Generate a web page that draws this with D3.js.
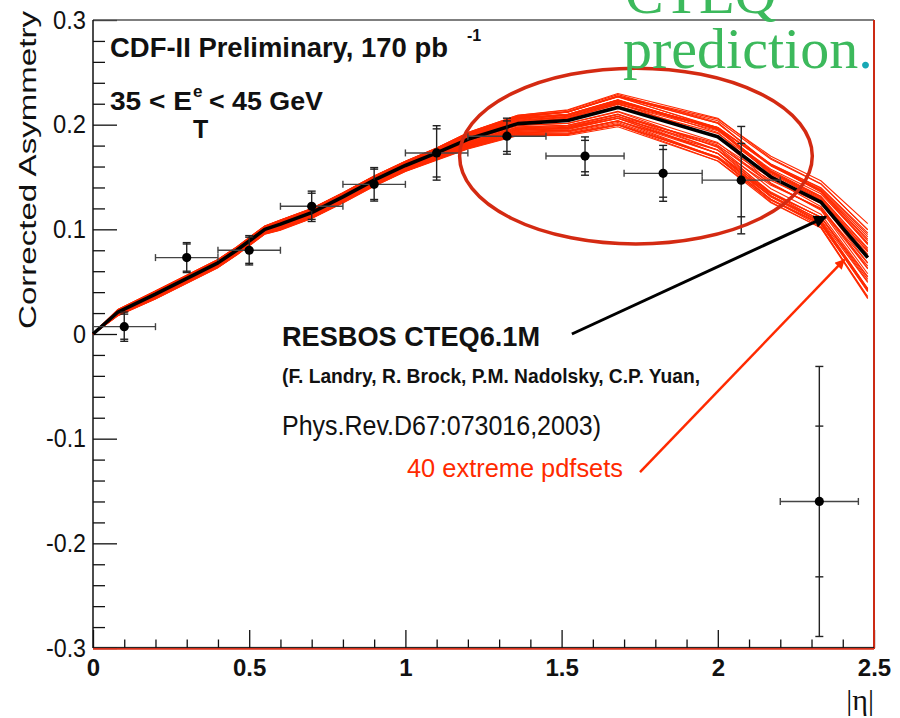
<!DOCTYPE html>
<html>
<head>
<meta charset="utf-8">
<script src="https://cdn.jsdelivr.net/npm/d3@7/dist/d3.min.js"></script>
<style>
  html, body { margin: 0; padding: 0; background: #fff; }
  svg { display: block; }
</style>
</head>
<body>
<svg id="chart" width="900" height="718" font-family="Liberation Sans, Arial, sans-serif"></svg>
<script>
// Measured electron charge asymmetry, CDF Run II (170 pb^-1), 35 < E_T < 45 GeV
const binCenter = [0.1, 0.3, 0.5, 0.7, 0.9, 1.1, 1.325, 1.575, 1.825, 2.075, 2.325];
const binLow    = [0.0, 0.2, 0.4, 0.6, 0.8, 1.0, 1.2, 1.45, 1.7, 1.95, 2.2];
const binHigh   = [0.2, 0.4, 0.6, 0.8, 1.0, 1.2, 1.45, 1.7, 1.95, 2.2, 2.45];
const asymmetry = [0.007, 0.073, 0.080, 0.122, 0.143, 0.173, 0.189, 0.170, 0.1535, 0.147, -0.160];
const statError = [0.012, 0.013, 0.0125, 0.0125, 0.0145, 0.023, 0.0146, 0.015, 0.0228, 0.035, 0.072];
const totError  = [0.014, 0.0143, 0.014, 0.0145, 0.016, 0.026, 0.0172, 0.0183, 0.0267, 0.0513, 0.129];

// RESBOS CTEQ6.1M central prediction
const etaKnots = [0, 0.08, 0.2, 0.4, 0.46, 0.55, 0.6, 0.7, 0.8, 0.9, 1.0, 1.1, 1.2, 1.36, 1.52, 1.68, 2.0, 2.17, 2.33, 2.48];
const theoryCentral = [0, 0.021, 0.038, 0.068, 0.080, 0.100, 0.105, 0.116, 0.131, 0.147, 0.161, 0.173, 0.186, 0.201, 0.204, 0.2165, 0.1885, 0.150, 0.126, 0.073];

// PDF error-set deviations: two shape profiles and the weight of each of the 40 sets
const pdfMidShape = [0, 0.003, 0.004, 0.004, 0.004, 0.004, 0.005, 0.005, 0.005, 0.005, 0.005, 0.006, 0.008, 0.010, 0.012, 0.015, 0.016, 0.012, 0.010, 0.012];
const pdfEndShape = [0, 0, 0, 0, 0, 0, 0, 0, 0, 0, 0, 0, 0, 0, 0.001, 0.002, 0.008, 0.014, 0.016, 0.028];
const pdfMidWeight = [0.8, -1.0, 0.7, -0.9, 0.6, -0.7, 0.4, -0.5, 0.75, -1.1, 0.2, -0.3, 0.65, -0.8, 0.5, -0.6, 0.3, -0.4, 0.1, -0.2,
                      0.7, -0.95, 0.55, -0.75, 0.45, -0.55, 0.25, -0.35, 0.05, -0.15, 0.8, -1.05, 0.6, -0.85, 0.5, -0.65, 0.35, -0.45, 0.15, -1.15];
const pdfEndWeight = [0.6, -0.9, -0.3, 0.2, 0.9, -1.1, 0.1, -0.6, -0.5, -0.2, 0.7, -1.0, 0.3, -0.4, -0.1, -0.8, 0.5, -1.2, 0.8, -0.3,
                      0.2, -0.7, -0.6, 0.4, 0.0, -0.9, 0.6, -0.5, 0.3, -1.0, 0.1, -0.4, 0.7, -0.8, -0.2, 0.5, -0.7, -0.1, 0.4, -0.6];

// Axis ticks
const yMajorTicks = [-0.3, -0.2, -0.1, 0, 0.1, 0.2, 0.3];
const yTickLabels = ["-0.3", "-0.2", "-0.1", "0", "0.1", "0.2", "0.3"];
const xMajorTicks = [0, 0.5, 1, 1.5, 2, 2.5];
const xTickLabels = ["0", "0.5", "1", "1.5", "2", "2.5"];

const SANS = "Liberation Sans, Arial, sans-serif";
const SERIF = "Liberation Serif, Times New Roman, serif";

const svg = d3.select("#chart");
const x = d3.scaleLinear().domain([0, 2.5]).range([93, 874]);
const y = d3.scaleLinear().domain([-0.3, 0.3]).range([648, 20]);

// ---- axes ----
const yMinor = d3.range(-30, 31, 2).map(v => v / 100).filter(v => Math.abs(Math.round(v * 100) % 10) !== 0);
const xMinor = d3.range(0, 26, 1).map(v => v / 10).filter(v => Math.round(v * 10) % 5 !== 0);

const yAxisMajor = svg.append("g").attr("transform", "translate(93,0)")
  .call(d3.axisLeft(y).tickValues(yMajorTicks).tickSize(-24).tickPadding(7)
    .tickFormat((d, i) => yTickLabels[i]));
svg.append("g").attr("transform", "translate(93,0)")
  .call(d3.axisLeft(y).tickValues(yMinor).tickSize(-12).tickFormat(""));

const xAxisMajor = svg.append("g").attr("transform", "translate(0,648)")
  .call(d3.axisBottom(x).tickValues(xMajorTicks).tickSize(-18).tickPadding(11)
    .tickFormat((d, i) => xTickLabels[i]));
svg.append("g").attr("transform", "translate(0,648)")
  .call(d3.axisBottom(x).tickValues(xMinor).tickSize(-8.5).tickFormat(""));

svg.selectAll(".domain").remove();
svg.selectAll(".tick line").attr("stroke", "#111").attr("stroke-width", 1.3);

yAxisMajor.selectAll("text")
  .attr("font-size", 26).attr("fill", "#111").attr("font-family", SANS)
  .attr("textLength", (d, i) => yTickLabels[i] === "0" ? 13 : (yTickLabels[i][0] === "-" ? 40 : 33))
  .attr("lengthAdjust", "spacingAndGlyphs");
xAxisMajor.selectAll("text")
  .attr("font-size", 24).attr("font-weight", "bold").attr("fill", "#111").attr("font-family", SANS);

// frame
svg.append("line").attr("x1", x(0)).attr("x2", x(2.5)).attr("y1", y(0.3)).attr("y2", y(0.3))
  .attr("stroke", "#555").attr("stroke-width", 1.5);
svg.append("line").attr("x1", x(2.5)).attr("x2", x(2.5)).attr("y1", y(0.3)).attr("y2", y(-0.3) + 1)
  .attr("stroke", "#cc2a14").attr("stroke-width", 2);
svg.append("line").attr("x1", x(0)).attr("x2", x(2.5)).attr("y1", y(-0.3) + 0.8).attr("y2", y(-0.3) + 0.8)
  .attr("stroke", "#d8301a").attr("stroke-width", 2);
svg.append("line").attr("x1", x(0)).attr("x2", x(2.5)).attr("y1", y(-0.3) - 0.6).attr("y2", y(-0.3) - 0.6)
  .attr("stroke", "#111").attr("stroke-width", 1);
svg.append("line").attr("x1", x(0)).attr("x2", x(0)).attr("y1", y(0.3)).attr("y2", y(-0.3))
  .attr("stroke", "#111").attr("stroke-width", 1.5);

// ---- theory: 40 PDF error sets and the central curve ----
const line = d3.line().x(d => x(d[0])).y(d => y(d[1]));
const pdfSets = pdfMidWeight.map((wm, i) =>
  etaKnots.map((e, k) => [e, theoryCentral[k] + wm * pdfMidShape[k] + pdfEndWeight[i] * pdfEndShape[k]]));

svg.append("g").selectAll("path").data(pdfSets).join("path")
  .attr("d", line).attr("fill", "none")
  .attr("stroke", "#ff2a00").attr("stroke-width", 1.1).attr("stroke-linejoin", "round");

svg.append("path")
  .attr("d", line(etaKnots.map((e, k) => [e, theoryCentral[k]])))
  .attr("fill", "none").attr("stroke", "#000").attr("stroke-width", 3.6)
  .attr("stroke-linejoin", "round");

// ---- data points with error bars ----
const pts = binCenter.map((c, i) => ({
  c, lo: binLow[i], hi: binHigh[i], a: asymmetry[i], s: statError[i], t: totError[i]
}));
const gData = svg.append("g").attr("stroke", "#222").attr("stroke-width", 1.4);
pts.forEach(p => {
  const g = gData.append("g");
  // horizontal bin width
  g.append("line").attr("x1", x(p.lo)).attr("x2", x(p.hi)).attr("y1", y(p.a)).attr("y2", y(p.a)).attr("stroke", "#444");
  g.append("line").attr("x1", x(p.lo)).attr("x2", x(p.lo)).attr("y1", y(p.a) - 3.5).attr("y2", y(p.a) + 3.5).attr("stroke", "#444");
  g.append("line").attr("x1", x(p.hi)).attr("x2", x(p.hi)).attr("y1", y(p.a) - 3.5).attr("y2", y(p.a) + 3.5).attr("stroke", "#444");
  // vertical: total error with stat caps
  g.append("line").attr("x1", x(p.c)).attr("x2", x(p.c)).attr("y1", y(p.a + p.t)).attr("y2", y(p.a - p.t));
  [p.a + p.t, p.a - p.t, p.a + p.s, p.a - p.s].forEach(v => {
    g.append("line").attr("x1", x(p.c) - 4).attr("x2", x(p.c) + 4).attr("y1", y(v)).attr("y2", y(v));
  });
  g.append("circle").attr("cx", x(p.c)).attr("cy", y(p.a)).attr("r", 4.6).attr("fill", "#000").attr("stroke", "none");
});

// ---- annotations ----
// ellipse around the high-|eta| region
const ellCx = 1.738, ellCy = 0.170, ellRx = 0.5645, ellRy = 0.084;
svg.append("ellipse")
  .attr("cx", x(ellCx)).attr("cy", y(ellCy))
  .attr("rx", x(ellRx) - x(0)).attr("ry", y(0) - y(ellRy))
  .attr("fill", "none").attr("stroke", "#d42a12").attr("stroke-width", 3.5);

const defs = svg.append("defs");
defs.append("marker").attr("id", "headBlack").attr("viewBox", "0 0 10 10")
  .attr("refX", 9).attr("refY", 5).attr("markerWidth", 16).attr("markerHeight", 13)
  .attr("markerUnits", "userSpaceOnUse").attr("orient", "auto")
  .append("path").attr("d", "M0,0 L10,5 L0,10 Z").attr("fill", "#000");
defs.append("marker").attr("id", "headRed").attr("viewBox", "0 0 10 10")
  .attr("refX", 9).attr("refY", 5).attr("markerWidth", 12).attr("markerHeight", 10)
  .attr("markerUnits", "userSpaceOnUse").attr("orient", "auto")
  .append("path").attr("d", "M0,0 L10,5 L0,10 Z").attr("fill", "#ff2a00");

svg.append("line")
  .attr("x1", x(1.533)).attr("y1", y(0.0)).attr("x2", x(2.346)).attr("y2", y(0.112))
  .attr("stroke", "#000").attr("stroke-width", 3).attr("marker-end", "url(#headBlack)");
svg.append("line")
  .attr("x1", x(1.751)).attr("y1", y(-0.132)).attr("x2", x(2.405)).attr("y2", y(0.071))
  .attr("stroke", "#ff2a00").attr("stroke-width", 2.5).attr("marker-end", "url(#headRed)");

// ---- texts ----
const txt = (s, xp, yp, size, opts = {}) => {
  const t = svg.append("text").attr("x", xp).attr("y", yp).attr("font-size", size)
    .attr("fill", opts.fill || "#111").attr("font-weight", opts.weight || "normal")
    .attr("font-family", opts.family || SANS)
    .text(s);
  if (opts.len) t.attr("textLength", opts.len).attr("lengthAdjust", "spacingAndGlyphs");
  if (opts.anchor) t.attr("text-anchor", opts.anchor);
  return t;
};

txt("CDF-II Preliminary, 170 pb", 110, 57, 27, { weight: "bold", len: 338 });
txt("-1", 467, 41, 16, { weight: "bold" });
txt("35 < E", 110, 110, 26, { weight: "bold", len: 82 });
txt("e", 193, 97, 17, { weight: "bold" });
txt("T", 193, 138, 25, { weight: "bold" });
txt("< 45 GeV", 209, 110, 26, { weight: "bold", len: 114 });

txt("RESBOS CTEQ6.1M", 282, 346, 28, { weight: "bold", len: 258 });
txt("(F. Landry, R. Brock, P.M. Nadolsky, C.P. Yuan,", 282, 383, 20, { weight: "bold", len: 418 });
txt("Phys.Rev.D67:073016,2003)", 282, 435, 28, { len: 319 });
txt("40 extreme pdfsets", 407, 477, 25, { fill: "#ff2a00", len: 216 });

// axis titles
svg.append("text").attr("transform", "translate(36,329) rotate(-90)")
  .attr("font-size", 24).attr("fill", "#111").attr("font-family", SANS)
  .attr("textLength", 318).attr("lengthAdjust", "spacingAndGlyphs")
  .text("Corrected Asymmetry");
txt("|η|", 874, 710, 30, { family: SERIF, anchor: "end" });

// green overlay caption
txt("CTEQ", 625, 13, 58, { fill: "#3cb95c", family: SERIF });
const pred = txt("prediction", 623, 68, 58, { fill: "#3cb95c", family: SERIF });
pred.append("tspan").attr("fill", "#17a8b4").text(".");
</script>
</body>
</html>
